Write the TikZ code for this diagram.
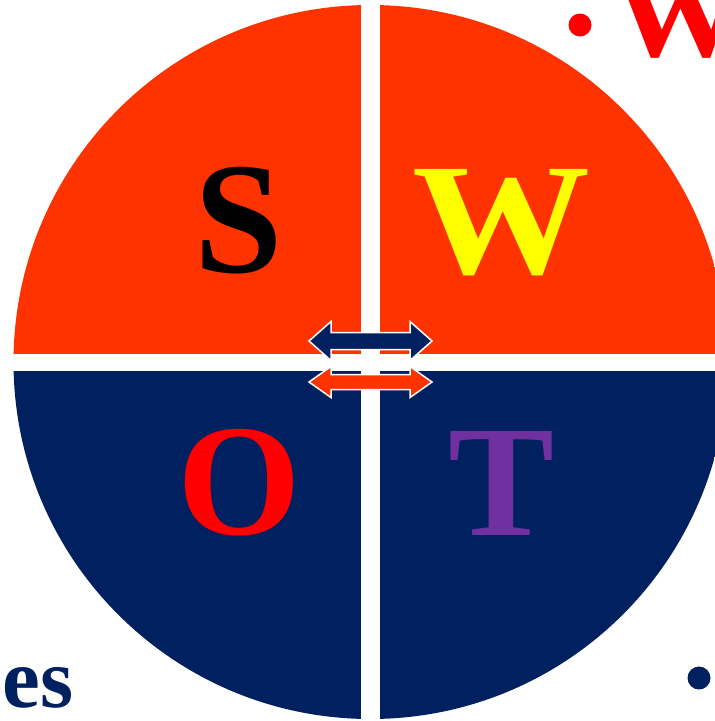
\documentclass[tikz,border=0pt]{standalone}
\usepackage{fontspec}
\setmainfont{Liberation Serif}
\definecolor{swotorange}{HTML}{FF3300}
\definecolor{swotnavy}{HTML}{002060}
\definecolor{swotred}{HTML}{FF0000}
\definecolor{swotyellow}{HTML}{FFFF00}
\definecolor{swotpurple}{HTML}{7030A0}
\begin{document}
\begin{tikzpicture}[x=1pt,y=-1pt,
  bigletter/.style={inner sep=0pt,anchor=base,font=\fontsize{159}{160}\selectfont\bfseries},
  arrowshape/.style={draw=white,line width=1.5pt,line join=miter}]
\useasboundingbox (0,0) rectangle (715,721);
\clip (0,0) rectangle (715,721);
\coordinate (c) at (370.5,362);
% disc halves
\begin{scope}
  \clip (c) circle (357);
  \fill[swotorange] (0,-20) rectangle (760,362);
  \fill[swotnavy] (0,362) rectangle (760,760);
\end{scope}
% white separating cross
\fill[white] (361,-20) rectangle (380,760);
\fill[white] (0,353.5) rectangle (760,370.5);
% double arrows
\filldraw[arrowshape,fill=swotnavy]
  (309,341) -- (331,321.5) -- (331,332.5) -- (410,332.5) -- (410,321.5)
  -- (432,341) -- (410,360.5) -- (410,349.5) -- (331,349.5) -- (331,360.5) -- cycle;
\filldraw[arrowshape,fill=swotorange]
  (309,382) -- (331,366.5) -- (331,374.5) -- (410,374.5) -- (410,366.5)
  -- (432,382) -- (410,397.5) -- (410,389.5) -- (331,389.5) -- (331,397.5) -- cycle;
% letters
\node[bigletter,text=black] (s) at (239,272) {S};
\node[bigletter,text=swotyellow] (w) at (502,273) {\scalebox{1.12}[1]{W}};
\node[bigletter,text=swotred] (o) at (239,534) {O};
\node[bigletter,text=swotpurple] (t) at (502,535) {T};
% partial texts at the edges
\fill[swotred] (580,25) circle (11.5);
\node[inner sep=0pt,anchor=base west,text=swotred,font=\fontsize{122}{124}\selectfont\bfseries] (wk) at (612,56) {\scalebox{1.1}[1]{W}};
\node[inner sep=0pt,anchor=base east,text=swotnavy,font=\fontsize{85}{87}\selectfont\bfseries] (es) at (74,707) {es};
\fill[swotnavy] (699,678) circle (11.5);
\end{tikzpicture}
\end{document}
